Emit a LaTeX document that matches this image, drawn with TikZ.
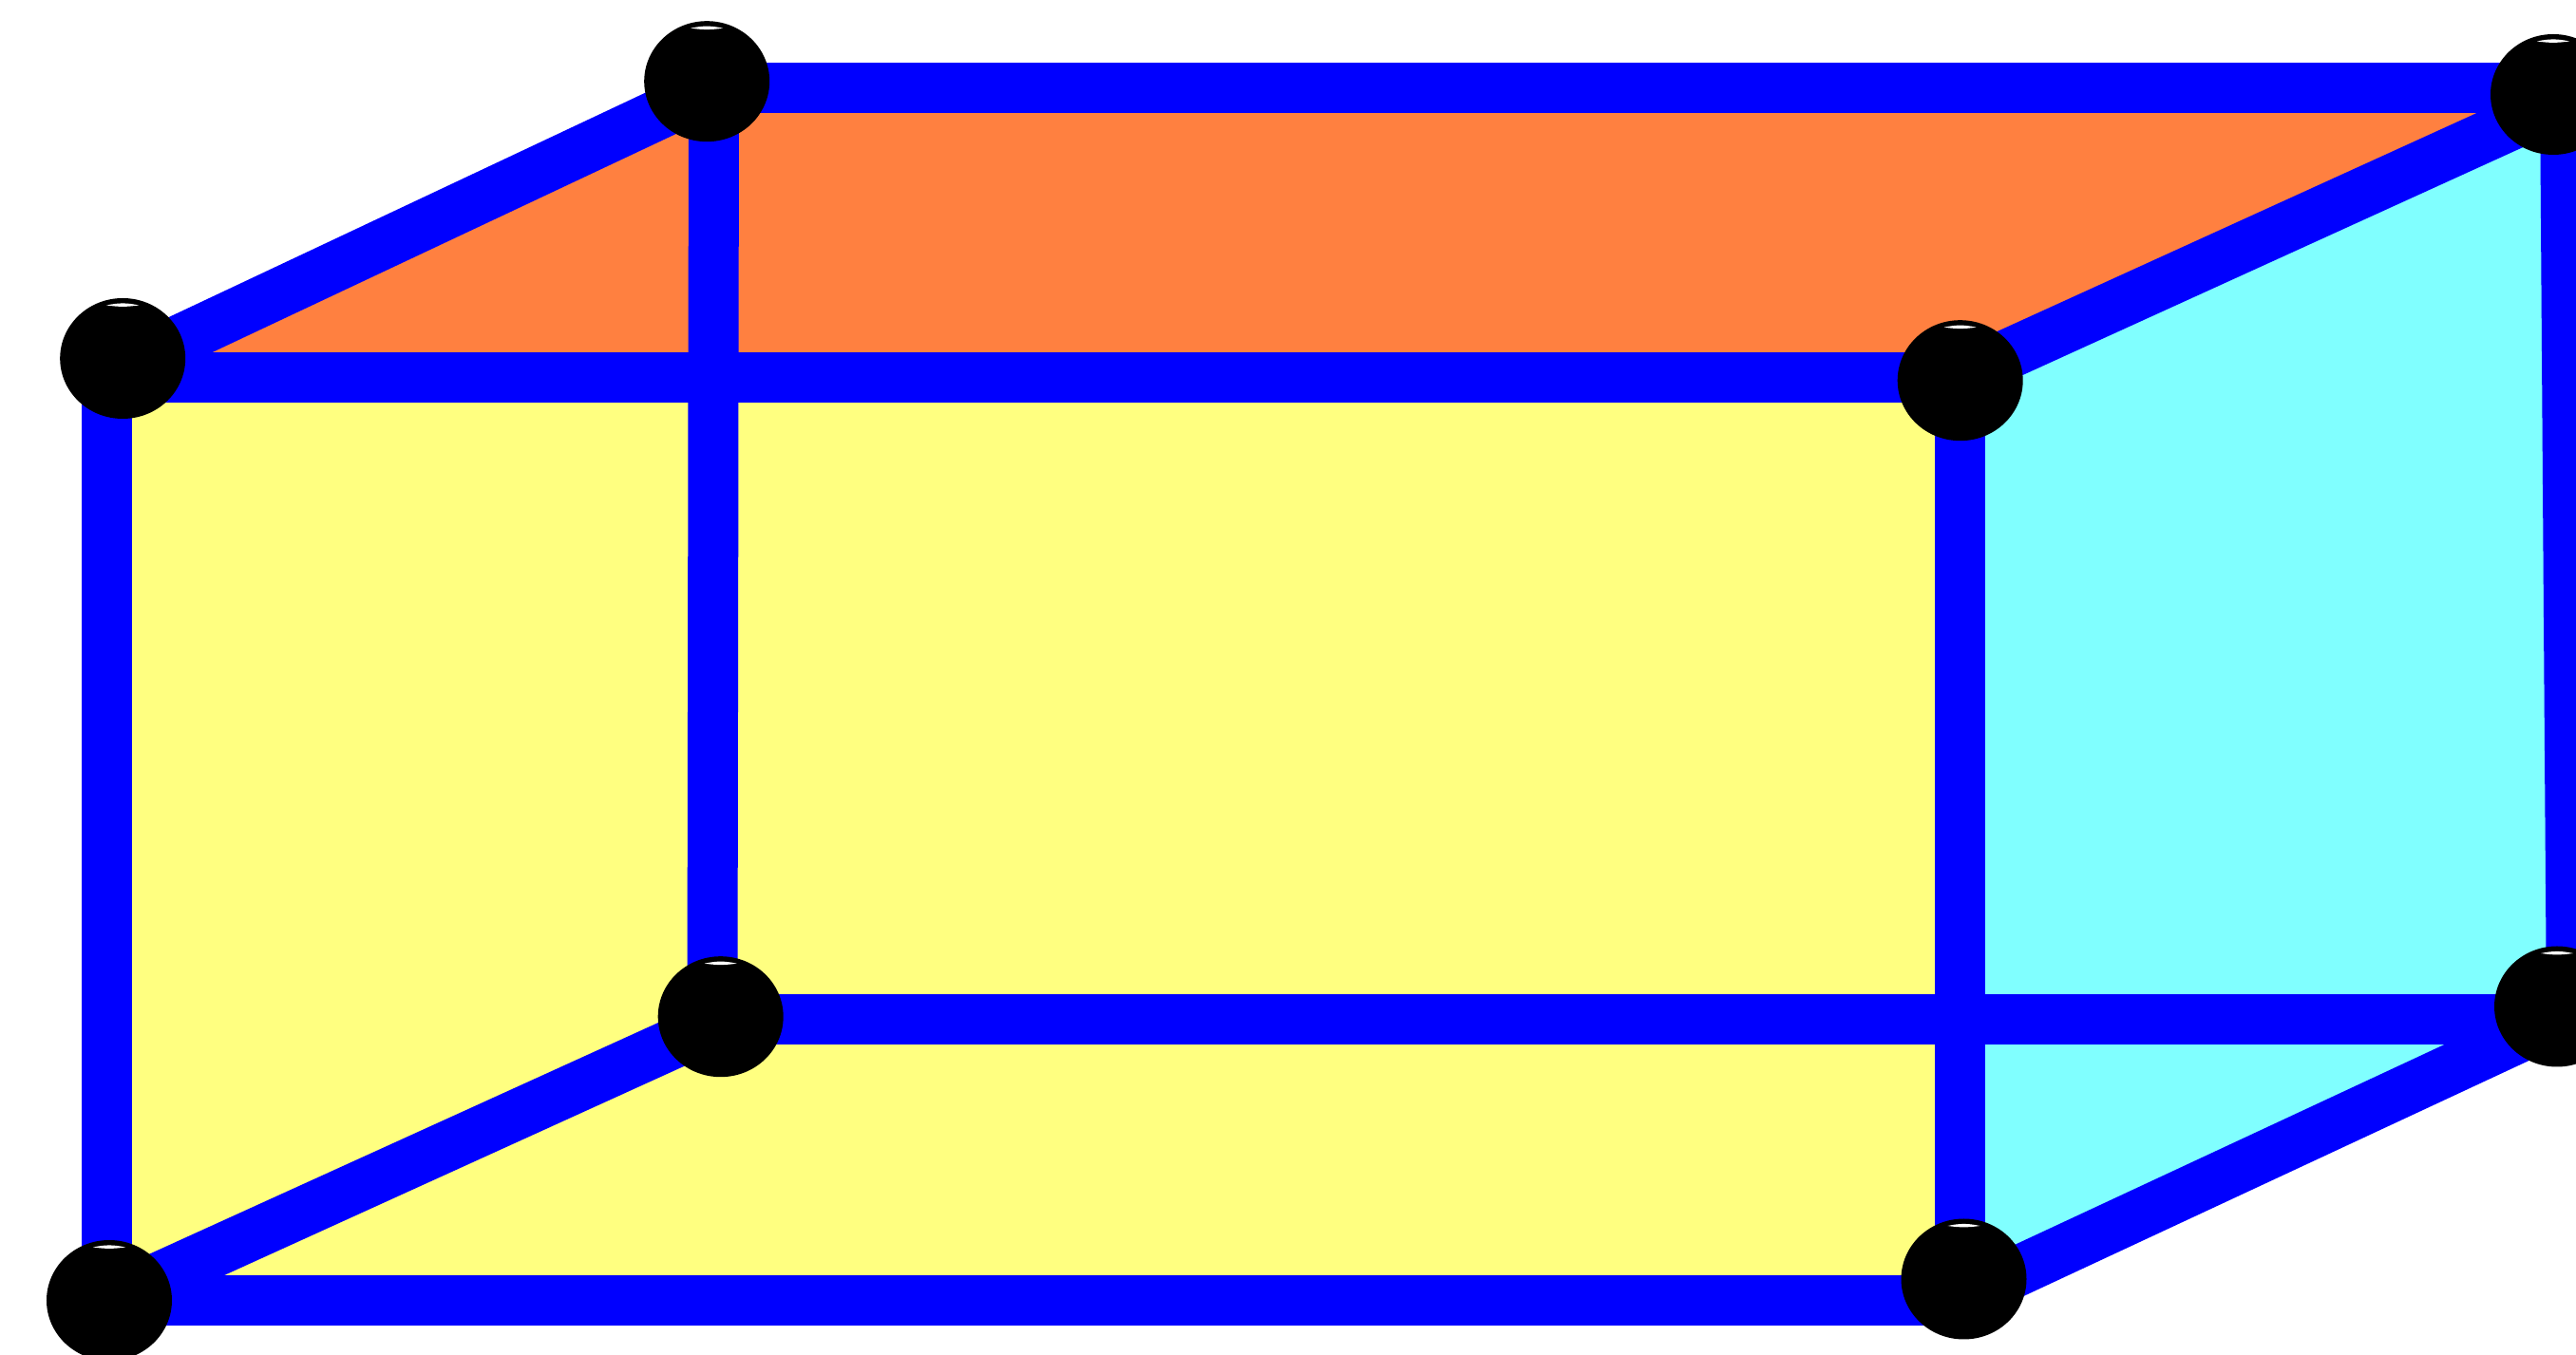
\documentclass[tikz,border=0pt]{standalone}
\usetikzlibrary{shapes.geometric}

\definecolor{faceyellow}{HTML}{FFFF80}
\definecolor{faceorange}{HTML}{FF8040}
\definecolor{facecyan}{HTML}{80FFFF}

\tikzset{
    edgeline/.style={blue, line width=0.53cm},
    ball/.style={ellipse, fill=black, inner sep=0pt, minimum width=1.32cm, minimum height=1.27cm},
    glint/.style={white, line width=0.3pt}
}

\begin{document}
\begin{tikzpicture}[y=-1cm]
    \useasboundingbox (0,0) rectangle (27.12,14.27);

    % corners of the box
    \coordinate (ftl) at (1.125,3.975);
    \coordinate (ftr) at (20.635,3.975);
    \coordinate (fbl) at (1.125,13.695);
    \coordinate (fbr) at (20.635,13.695);
    \coordinate (btl) at (7.515,0.925);
    \coordinate (btr) at (27.005,0.925);
    \coordinate (bbl) at (7.50,10.735);
    \coordinate (bbr) at (27.075,10.735);

    % ends of the slanted edges
    \coordinate (ftlup) at (1.12,3.943);
    \coordinate (btlup) at (7.50,0.937);
    \coordinate (ftrup) at (20.635,3.96);
    \coordinate (btrup) at (27.00,1.06);
    \coordinate (fblup) at (1.15,13.69);
    \coordinate (bblup) at (7.57,10.77);
    \coordinate (fbrup) at (20.635,13.67);
    \coordinate (bbrup) at (27.07,10.67);

    % faces
    \fill[faceyellow] (ftl) -- (ftr) -- (fbr) -- (fbl) -- cycle;
    \fill[faceorange] (ftl) -- (btl) -- (btr) -- (ftr) -- cycle;
    \fill[facecyan] (ftr) -- (btr) -- (bbr) -- (fbr) -- cycle;

    % edges
    \draw[edgeline] (btl) -- (btr);
    \draw[edgeline] (btl) -- (bbl);
    \draw[edgeline] (bbl) -- (bbr);
    \draw[edgeline] (btr) -- (bbr);
    \draw[edgeline] (ftlup) -- (btlup);
    \draw[edgeline] (ftrup) -- (btrup);
    \draw[edgeline] (fblup) -- (bblup);
    \draw[edgeline] (fbrup) -- (bbrup);
    \draw[edgeline] (ftl) -- (ftr);
    \draw[edgeline] (ftl) -- (fbl);
    \draw[edgeline] (fbl) -- (fbr);
    \draw[edgeline] (ftr) -- (fbr);

    % balls on the corners
    \foreach \ballname/\ballpos in {ballftl/{(1.292,3.775)}, ballftr/{(20.637,4.007)},
        ballfbl/{(1.15,13.695)}, ballfbr/{(20.675,13.47)}, ballbtl/{(7.442,0.857)},
        ballbtr/{(26.88,0.995)}, ballbbl/{(7.587,10.707)}, ballbbr/{(26.92,10.60)}} {
        \node[ball] (\ballname) at \ballpos {};
        \fill[glint] ([shift={(-.17,-.56)}]\ballname.center) to[bend left=12] ([shift={(.17,-.56)}]\ballname.center) to[bend left=8] cycle;
    }
\end{tikzpicture}
\end{document}
